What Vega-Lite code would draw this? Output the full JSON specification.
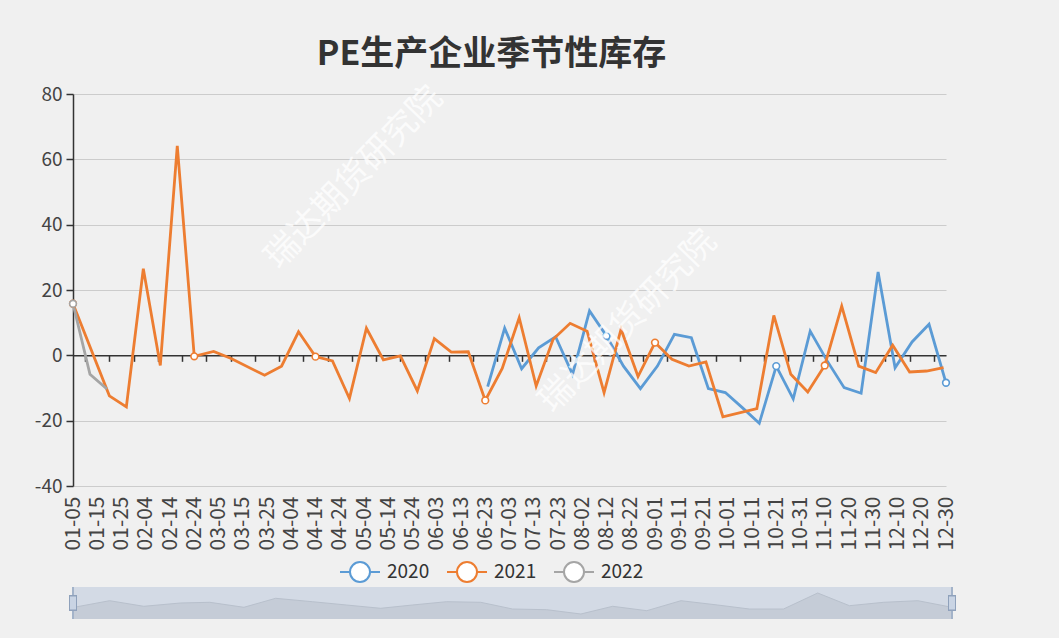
{
  "$schema": "https://vega.github.io/schema/vega-lite/v6.json",
  "background": "#f0f0f0",
  "padding": {"left": 34, "top": 37, "right": 103, "bottom": 18},
  "config": {"font": "Noto Sans CJK SC", "view": {"stroke": null}},
  "datasets": {
    "series": [
      {"year": "2020", "date": "2020/06/24", "value": -9.6},
      {"year": "2020", "date": "2020/07/01", "value": 8.3},
      {"year": "2020", "date": "2020/07/08", "value": -4.1},
      {"year": "2020", "date": "2020/07/15", "value": 2.3},
      {"year": "2020", "date": "2020/07/22", "value": 5.7},
      {"year": "2020", "date": "2020/07/29", "value": -5.8},
      {"year": "2020", "date": "2020/08/05", "value": 13.6},
      {"year": "2020", "date": "2020/08/12", "value": 5.9},
      {"year": "2020", "date": "2020/08/19", "value": -3.3},
      {"year": "2020", "date": "2020/08/26", "value": -10.2},
      {"year": "2020", "date": "2020/09/02", "value": -3.3},
      {"year": "2020", "date": "2020/09/09", "value": 6.4},
      {"year": "2020", "date": "2020/09/16", "value": 5.4},
      {"year": "2020", "date": "2020/09/23", "value": -10.2},
      {"year": "2020", "date": "2020/09/30", "value": -11.4},
      {"year": "2020", "date": "2020/10/07", "value": -16.0},
      {"year": "2020", "date": "2020/10/14", "value": -20.8},
      {"year": "2020", "date": "2020/10/21", "value": -3.3},
      {"year": "2020", "date": "2020/10/28", "value": -13.3},
      {"year": "2020", "date": "2020/11/04", "value": 7.4},
      {"year": "2020", "date": "2020/11/11", "value": -1.7},
      {"year": "2020", "date": "2020/11/18", "value": -9.9},
      {"year": "2020", "date": "2020/11/25", "value": -11.6},
      {"year": "2020", "date": "2020/12/02", "value": 25.5},
      {"year": "2020", "date": "2020/12/09", "value": -3.8},
      {"year": "2020", "date": "2020/12/16", "value": 4.1},
      {"year": "2020", "date": "2020/12/23", "value": 9.5},
      {"year": "2020", "date": "2020/12/30", "value": -8.4},
      {"year": "2021", "date": "2020/01/05", "value": 15.8},
      {"year": "2021", "date": "2020/01/20", "value": -12.4},
      {"year": "2021", "date": "2020/01/27", "value": -15.8},
      {"year": "2021", "date": "2020/02/03", "value": 26.5},
      {"year": "2021", "date": "2020/02/10", "value": -3.1},
      {"year": "2021", "date": "2020/02/17", "value": 64.1},
      {"year": "2021", "date": "2020/02/24", "value": -0.3},
      {"year": "2021", "date": "2020/03/03", "value": 1.2},
      {"year": "2021", "date": "2020/03/10", "value": -0.9},
      {"year": "2021", "date": "2020/03/24", "value": -6.1},
      {"year": "2021", "date": "2020/03/31", "value": -3.3},
      {"year": "2021", "date": "2020/04/07", "value": 7.2},
      {"year": "2021", "date": "2020/04/14", "value": -0.4},
      {"year": "2021", "date": "2020/04/21", "value": -1.7},
      {"year": "2021", "date": "2020/04/28", "value": -13.2},
      {"year": "2021", "date": "2020/05/05", "value": 8.3},
      {"year": "2021", "date": "2020/05/12", "value": -1.4},
      {"year": "2021", "date": "2020/05/19", "value": -0.2},
      {"year": "2021", "date": "2020/05/26", "value": -10.9},
      {"year": "2021", "date": "2020/06/02", "value": 5.1},
      {"year": "2021", "date": "2020/06/09", "value": 1.0},
      {"year": "2021", "date": "2020/06/16", "value": 1.1},
      {"year": "2021", "date": "2020/06/23", "value": -13.8},
      {"year": "2021", "date": "2020/06/30", "value": -4.0},
      {"year": "2021", "date": "2020/07/07", "value": 11.5},
      {"year": "2021", "date": "2020/07/14", "value": -9.4},
      {"year": "2021", "date": "2020/07/21", "value": 4.9},
      {"year": "2021", "date": "2020/07/28", "value": 9.8},
      {"year": "2021", "date": "2020/08/04", "value": 7.4},
      {"year": "2021", "date": "2020/08/11", "value": -11.4},
      {"year": "2021", "date": "2020/08/18", "value": 8.0},
      {"year": "2021", "date": "2020/08/25", "value": -6.5},
      {"year": "2021", "date": "2020/09/01", "value": 3.9},
      {"year": "2021", "date": "2020/09/08", "value": -1.2},
      {"year": "2021", "date": "2020/09/15", "value": -3.3},
      {"year": "2021", "date": "2020/09/22", "value": -2.0},
      {"year": "2021", "date": "2020/09/29", "value": -18.8},
      {"year": "2021", "date": "2020/10/13", "value": -16.3},
      {"year": "2021", "date": "2020/10/20", "value": 12.2},
      {"year": "2021", "date": "2020/10/27", "value": -5.8},
      {"year": "2021", "date": "2020/11/03", "value": -11.2},
      {"year": "2021", "date": "2020/11/10", "value": -3.1},
      {"year": "2021", "date": "2020/11/17", "value": 15.1},
      {"year": "2021", "date": "2020/11/24", "value": -3.3},
      {"year": "2021", "date": "2020/12/01", "value": -5.3},
      {"year": "2021", "date": "2020/12/08", "value": 3.1},
      {"year": "2021", "date": "2020/12/15", "value": -5.1},
      {"year": "2021", "date": "2020/12/22", "value": -4.8},
      {"year": "2021", "date": "2020/12/29", "value": -3.8},
      {"year": "2022", "date": "2020/01/05", "value": 15.8},
      {"year": "2022", "date": "2020/01/12", "value": -5.8},
      {"year": "2022", "date": "2020/01/19", "value": -10.3}
    ],
    "shadow": [
      {"date": "2020/01/05", "level": 11.5},
      {"date": "2020/01/20", "level": 18.3},
      {"date": "2020/02/03", "level": 12.7},
      {"date": "2020/02/18", "level": 16},
      {"date": "2020/03/01", "level": 16.7},
      {"date": "2020/03/15", "level": 11.7},
      {"date": "2020/03/28", "level": 20.7},
      {"date": "2020/04/12", "level": 17.3},
      {"date": "2020/04/26", "level": 14},
      {"date": "2020/05/10", "level": 10.7},
      {"date": "2020/05/23", "level": 14},
      {"date": "2020/06/06", "level": 17.3},
      {"date": "2020/06/20", "level": 16.7},
      {"date": "2020/07/03", "level": 10},
      {"date": "2020/07/17", "level": 9.3},
      {"date": "2020/07/31", "level": 5},
      {"date": "2020/08/13", "level": 12.7},
      {"date": "2020/08/27", "level": 8.3},
      {"date": "2020/09/10", "level": 18.3},
      {"date": "2020/09/25", "level": 14},
      {"date": "2020/10/08", "level": 10},
      {"date": "2020/10/22", "level": 10},
      {"date": "2020/11/05", "level": 26},
      {"date": "2020/11/18", "level": 13.3},
      {"date": "2020/12/02", "level": 16.7},
      {"date": "2020/12/16", "level": 18.3},
      {"date": "2020/12/30", "level": 11.7}
    ],
    "watermark": [
      {"date": "2020/04/30", "value": 54.3, "text": "瑞达期货研究院"},
      {"date": "2020/08/21", "value": 10.3, "text": "瑞达期货研究院"}
    ]
  },
  "bounds": "flush",
  "spacing": 101,
  "resolve": {"scale": {"color": "independent"}},
  "vconcat": [
    {
      "width": 873,
      "height": 392,
      "title": {"text": "PE生产企业季节性库存", "fontSize": 34, "fontWeight": "bold", "color": "#333333", "anchor": "middle", "baseline": "bottom", "offset": -25, "dx": -18},
      "resolve": {"axis": {"x": "independent"}},
      "layer": [
        {
          "data": {"name": "series"},
          "mark": {"type": "line", "strokeWidth": 2.8},
          "encoding": {
            "x": {
              "field": "date", "type": "temporal",
              "scale": {"domain": [{"year": 2020, "month": 1, "date": 5}, {"year": 2020, "month": 12, "date": 30}], "nice": false},
              "axis": {
                "orient": "bottom", "title": null, "format": "%m-%d", "labelAngle": -90,
                "labelFontSize": 21, "labelColor": "#444444", "labelPadding": 10,
                "ticks": false, "tickSize": 0, "domain": false, "grid": false,
                "labelOverlap": false, "labelFlush": false, "labelBound": false,
                "values": [
                  {"year": 2020, "month": 1, "date": 5}, {"year": 2020, "month": 1, "date": 15}, {"year": 2020, "month": 1, "date": 25},
                  {"year": 2020, "month": 2, "date": 4}, {"year": 2020, "month": 2, "date": 14}, {"year": 2020, "month": 2, "date": 24},
                  {"year": 2020, "month": 3, "date": 5}, {"year": 2020, "month": 3, "date": 15}, {"year": 2020, "month": 3, "date": 25},
                  {"year": 2020, "month": 4, "date": 4}, {"year": 2020, "month": 4, "date": 14}, {"year": 2020, "month": 4, "date": 24},
                  {"year": 2020, "month": 5, "date": 4}, {"year": 2020, "month": 5, "date": 14}, {"year": 2020, "month": 5, "date": 24},
                  {"year": 2020, "month": 6, "date": 3}, {"year": 2020, "month": 6, "date": 13}, {"year": 2020, "month": 6, "date": 23},
                  {"year": 2020, "month": 7, "date": 3}, {"year": 2020, "month": 7, "date": 13}, {"year": 2020, "month": 7, "date": 23},
                  {"year": 2020, "month": 8, "date": 2}, {"year": 2020, "month": 8, "date": 12}, {"year": 2020, "month": 8, "date": 22},
                  {"year": 2020, "month": 9, "date": 1}, {"year": 2020, "month": 9, "date": 11}, {"year": 2020, "month": 9, "date": 21},
                  {"year": 2020, "month": 10, "date": 1}, {"year": 2020, "month": 10, "date": 11}, {"year": 2020, "month": 10, "date": 21},
                  {"year": 2020, "month": 10, "date": 31}, {"year": 2020, "month": 11, "date": 10}, {"year": 2020, "month": 11, "date": 20},
                  {"year": 2020, "month": 11, "date": 30}, {"year": 2020, "month": 12, "date": 10}, {"year": 2020, "month": 12, "date": 20},
                  {"year": 2020, "month": 12, "date": 30}
                ]
              }
            },
            "y": {
              "field": "value", "type": "quantitative",
              "scale": {"domain": [-40, 80], "nice": false},
              "axis": {
                "title": null, "values": [-40, -20, 0, 20, 40, 60, 80],
                "labelExpr": "replace(datum.label, '−', '-')",
                "labelFontSize": 19, "labelColor": "#444444", "labelPadding": 4,
                "tickSize": 7, "tickColor": "#333333", "tickWidth": 1.5,
                "domainColor": "#333333", "domainWidth": 1.5,
                "grid": true, "gridColor": "#cccccc", "gridWidth": 1.2
              }
            },
            "color": {
              "field": "year", "type": "nominal",
              "scale": {"domain": ["2020", "2021", "2022"], "range": ["#5b9bd5", "#ed7d31", "#a5a5a5"]},
              "legend": {
                "orient": "none", "legendX": 266, "legendY": 457, "direction": "horizontal", "title": null,
                "symbolType": "M-1,0L-0.5,0M0.5,0L1,0M0.5,0A0.5,0.5,0,1,1,-0.5,0A0.5,0.5,0,1,1,0.5,0",
                "symbolSize": 1600, "symbolStrokeWidth": 2, "symbolFillColor": "#ffffff",
                "labelFontSize": 19, "labelColor": "#333333", "labelOffset": 6, "columnPadding": 13,
                "encode": {"symbols": {"update": {"fill": {"value": "#ffffff"}, "strokeWidth": {"value": 2}}}}
              }
            }
          }
        },
        {
          "data": {"name": "series"},
          "transform": [
            {"filter": {"timeUnit": "monthdate", "field": "date", "oneOf": [
              {"month": 1, "date": 5}, {"month": 1, "date": 15}, {"month": 1, "date": 25},
              {"month": 2, "date": 4}, {"month": 2, "date": 14}, {"month": 2, "date": 24},
              {"month": 3, "date": 5}, {"month": 3, "date": 15}, {"month": 3, "date": 25},
              {"month": 4, "date": 4}, {"month": 4, "date": 14}, {"month": 4, "date": 24},
              {"month": 5, "date": 4}, {"month": 5, "date": 14}, {"month": 5, "date": 24},
              {"month": 6, "date": 3}, {"month": 6, "date": 13}, {"month": 6, "date": 23},
              {"month": 7, "date": 3}, {"month": 7, "date": 13}, {"month": 7, "date": 23},
              {"month": 8, "date": 2}, {"month": 8, "date": 12}, {"month": 8, "date": 22},
              {"month": 9, "date": 1}, {"month": 9, "date": 11}, {"month": 9, "date": 21},
              {"month": 10, "date": 1}, {"month": 10, "date": 11}, {"month": 10, "date": 21},
              {"month": 10, "date": 31}, {"month": 11, "date": 10}, {"month": 11, "date": 20},
              {"month": 11, "date": 30}, {"month": 12, "date": 10}, {"month": 12, "date": 20},
              {"month": 12, "date": 30}
            ]}}
          ],
          "mark": {"type": "point", "filled": true, "fill": "#ffffff", "size": 45, "strokeWidth": 1.6, "opacity": 1},
          "encoding": {
            "x": {
              "field": "date", "type": "temporal",
              "axis": {
                "orient": "bottom", "offset": -130.67, "title": null, "labels": false,
                "ticks": true, "tickSize": 6, "tickColor": "#333333", "tickWidth": 1.5,
                "domain": true, "domainColor": "#333333", "domainWidth": 1.5, "grid": false,
                "values": [
                  {"year": 2020, "month": 1, "date": 10}, {"year": 2020, "month": 1, "date": 20}, {"year": 2020, "month": 1, "date": 30},
                  {"year": 2020, "month": 2, "date": 9}, {"year": 2020, "month": 2, "date": 19}, {"year": 2020, "month": 2, "date": 29},
                  {"year": 2020, "month": 3, "date": 10}, {"year": 2020, "month": 3, "date": 20}, {"year": 2020, "month": 3, "date": 30},
                  {"year": 2020, "month": 4, "date": 9}, {"year": 2020, "month": 4, "date": 19}, {"year": 2020, "month": 4, "date": 29},
                  {"year": 2020, "month": 5, "date": 9}, {"year": 2020, "month": 5, "date": 19}, {"year": 2020, "month": 5, "date": 29},
                  {"year": 2020, "month": 6, "date": 8}, {"year": 2020, "month": 6, "date": 18}, {"year": 2020, "month": 6, "date": 28},
                  {"year": 2020, "month": 7, "date": 8}, {"year": 2020, "month": 7, "date": 18}, {"year": 2020, "month": 7, "date": 28},
                  {"year": 2020, "month": 8, "date": 7}, {"year": 2020, "month": 8, "date": 17}, {"year": 2020, "month": 8, "date": 27},
                  {"year": 2020, "month": 9, "date": 6}, {"year": 2020, "month": 9, "date": 16}, {"year": 2020, "month": 9, "date": 26},
                  {"year": 2020, "month": 10, "date": 6}, {"year": 2020, "month": 10, "date": 16}, {"year": 2020, "month": 10, "date": 26},
                  {"year": 2020, "month": 11, "date": 5}, {"year": 2020, "month": 11, "date": 15}, {"year": 2020, "month": 11, "date": 25},
                  {"year": 2020, "month": 12, "date": 5}, {"year": 2020, "month": 12, "date": 15}, {"year": 2020, "month": 12, "date": 25}
                ]
              }
            },
            "y": {"field": "value", "type": "quantitative"},
            "stroke": {
              "field": "year", "type": "nominal",
              "scale": {"domain": ["2020", "2021", "2022"], "range": ["#5b9bd5", "#ed7d31", "#a5a5a5"]},
              "legend": null
            }
          }
        },
        {
          "data": {"name": "watermark"},
          "mark": {"type": "text", "angle": -46, "fontSize": 34, "color": "#ffffff", "opacity": 0.75, "align": "center", "baseline": "middle"},
          "encoding": {
            "x": {"field": "date", "type": "temporal", "axis": null},
            "y": {"field": "value", "type": "quantitative"},
            "text": {"field": "text"}
          }
        }
      ]
    },
    {
      "width": 879,
      "height": 32,
      "view": {"fill": "#d3dae5", "stroke": null},
      "data": {"name": "shadow"},
      "layer": [
        {
          "mark": {"type": "area", "color": "#c5ccd7", "opacity": 1, "line": {"color": "#b8c0cc", "strokeWidth": 1}},
          "encoding": {
            "x": {"field": "date", "type": "temporal", "axis": null,
                  "scale": {"domain": [{"year": 2020, "month": 1, "date": 5}, {"year": 2020, "month": 12, "date": 30}], "nice": false}},
            "y": {"field": "level", "type": "quantitative", "axis": null, "scale": {"domain": [0, 32], "nice": false}}
          }
        },
        {
          "mark": {"type": "rule", "color": "#a3b3c9", "strokeWidth": 1.5},
          "encoding": {"x": {"datum": {"year": 2020, "month": 1, "date": 5}, "type": "temporal"}}
        },
        {
          "mark": {"type": "rule", "color": "#a3b3c9", "strokeWidth": 1.5},
          "encoding": {"x": {"datum": {"year": 2020, "month": 12, "date": 30}, "type": "temporal"}}
        },
        {
          "mark": {"type": "tick", "orient": "vertical", "size": 14, "thickness": 7, "color": "#c9d4e4", "stroke": "#8fa1bb", "strokeWidth": 1, "opacity": 1},
          "encoding": {"x": {"datum": {"year": 2020, "month": 1, "date": 5}, "type": "temporal"}, "y": {"datum": 16, "type": "quantitative"}}
        },
        {
          "mark": {"type": "tick", "orient": "vertical", "size": 14, "thickness": 7, "color": "#c9d4e4", "stroke": "#8fa1bb", "strokeWidth": 1, "opacity": 1},
          "encoding": {"x": {"datum": {"year": 2020, "month": 12, "date": 30}, "type": "temporal"}, "y": {"datum": 16, "type": "quantitative"}}
        }
      ]
    }
  ]
}
